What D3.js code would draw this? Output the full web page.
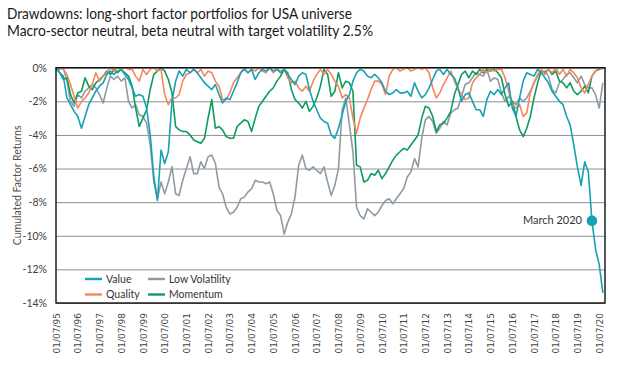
<!DOCTYPE html>
<html>
<head>
<meta charset="utf-8">
<script src="https://cdn.jsdelivr.net/npm/d3@7"></script>
<style>
  html, body { margin: 0; padding: 0; background: #fff; }
  svg { display: block; font-family: Lato, "Open Sans", sans-serif; }
</style>
</head>
<body>
<div id="chart"></div>
<script>
// Drawdowns, in %, sampled every two months from July 1995 to September 2020
const value = [
  0, -0.3, -0.5, -1.8, -2.2, -2.6, -2.9, -3.6, -2.9, -2.2, -1.8, -1.4,
  -1.1, -0.9, -0.4, -0.2, -0.4, -0.2, -0.1, -0.4, -0.7, -1.2, -1.7, -1.6,
  -1.7, -2.4, -4.0, -6.5, -7.9, -4.9, -5.7, -5.0, -2.0, -0.8, -0.2, -0.5,
  -0.1, -0.3, -0.1, -0.3, -0.6, -0.9, -1.1, -1.3, -1.0, -1.6, -2.1, -1.8,
  -1.9, -1.4, -0.9, -0.3, -0.1, -0.3, -0.1, -0.7, -0.3, -0.1, -0.2, 0,
  -0.2, -0.1, -0.3, -0.1, -0.4, -0.7, -1.0, -0.5, -0.3, -0.4, -1.3, -2.0,
  -2.5, -3.0, -3.2, -3.3, -4.0, -4.2, -3.6, -2.8, -2.0, -1.6, -0.8, -0.3,
  -0.1, -0.2, -0.5, -0.6, -0.4, -0.6, -0.9, -1.4, -1.6, -1.5, -1.3, -1.5,
  -1.5, -1.4, -1.7, -0.9, -1.4, -1.8, -1.6, -1.2, -0.7, -0.2, -0.1, -0.4,
  -0.1, -0.4, -0.6, -1.2, -2.0, -1.6, -1.5, -2.0, -2.5, -2.5, -2.9, -1.9,
  -1.4, -1.6, -1.3, -1.6, -1.2, -0.9, -2.4, -2.9, -1.8, -0.8, -0.3, -0.4,
  -0.5, -0.1, -0.3, -0.6, -0.9, -1.4, -1.7, -2.0, -2.2, -2.9, -3.4, -4.6,
  -5.9, -7.0, -5.6, -6.2, -9.1, -10.8, -11.7, -13.4
];
const quality = [
  0, 0, -0.1, -0.4, -1.0, -1.7, -2.4, -2.0, -1.8, -1.5, -1.0, -0.3,
  -0.8, -0.5, -0.3, 0, -0.2, 0, -0.1, 0, -0.1, -0.1, -0.5, -0.8,
  -0.1, -0.4, -0.1, 0, -0.2, -0.1, -1.6, -2.2, -1.8, -1.8, -1.6, -0.8,
  -0.4, -0.3, -0.1, -0.3, -0.1, -0.5, -0.2, -0.3, -0.8, -1.1, -1.9, -1.9,
  -1.5, -0.9, -0.6, -0.3, 0, -0.3, -0.1, -0.2, 0, -0.2, -0.3, 0,
  -0.3, -0.1, -0.2, -0.1, -0.6, -0.9, -0.8, -1.2, -1.4, -1.1, -1.4, -0.8,
  -0.4, -0.1, -0.4, -0.1, -0.4, -0.8, -1.1, -1.8, -1.6, -1.8, -3.0, -3.9,
  -3.0, -2.4, -1.9, -1.3, -0.8, -0.8, -1.0, -1.6, -0.5, -0.1, 0, -0.2,
  -0.1, 0, -0.2, -0.1, 0, -0.1, 0, -0.3, -1.2, -1.8, -1.5, -1.0,
  -0.6, -0.2, -0.8, -1.3, -1.6, -1.9, -1.8, -0.9, -0.6, -0.4, -0.1, -0.3,
  -0.1, -0.2, -0.1, -0.1, -0.6, -1.4, -2.2, -2.4, -2.2, -2.9, -2.7, -1.5,
  -0.9, -0.4, -0.1, -0.4, -0.1, -0.3, 0, -0.4, -0.1, -0.5, -0.1, -0.3,
  -0.6, -1.2, -1.5, -1.0, -0.5, -0.2, 0, -0.1
];
const lowVolatility = [
  0, -0.1, 0, -0.8, -2.0, -2.3, -1.6, -1.8, -1.4, -1.2, -1.0, -1.2,
  -1.6, -2.1, -1.2, -0.5, -0.7, -0.5, -0.8, -0.6, -2.0, -2.4, -2.2, -2.8,
  -2.9, -3.3, -4.6, -6.8, -7.8, -6.8, -7.5, -6.8, -5.9, -7.5, -7.6, -6.7,
  -6.0, -5.3, -6.3, -6.3, -5.6, -6.0, -5.3, -5.2, -5.7, -7.1, -7.5, -8.3,
  -8.7, -8.6, -8.3, -7.8, -7.7, -7.4, -7.2, -6.7, -6.8, -6.8, -6.9, -6.8,
  -7.5, -8.5, -8.8, -9.9, -9.2, -8.7, -7.7, -5.8, -5.2, -6.0, -6.1, -5.9,
  -6.1, -6.3, -5.9, -6.8, -7.6, -7.0, -6.0, -2.5, -1.8, -3.4, -5.0, -8.3,
  -8.8, -9.0, -8.4, -8.6, -8.8, -8.6, -8.2, -7.9, -7.8, -8.1, -7.8, -7.5,
  -7.2, -6.5, -6.2, -5.4, -5.9, -4.2, -3.1, -2.9, -3.2, -3.9, -3.6, -3.2,
  -3.4, -2.7, -2.5, -2.4, -1.7, -1.0, -0.9, -0.6, -0.3, -0.4, -0.5, -0.1,
  -0.8, -0.6, -0.7, -1.5, -2.0, -1.7, -2.0, -2.2, -1.8, -2.0, -1.8, -1.4,
  -0.9, -0.5, -0.2, -0.2, -0.5, -1.3, -1.5, -0.9, -0.7, -0.4, -0.3, -0.6,
  -0.9, -0.5, -1.0, -1.2, -1.2, -1.6, -2.4, -0.9
];
const momentum = [
  0, -0.3, -0.7, -0.6, -1.6, -2.1, -1.5, -1.4, -0.6, -1.1, -1.3, -0.9,
  -0.7, -0.5, -0.2, -0.4, -0.1, -0.3, -0.1, -0.3, -0.5, -1.1, -2.4, -3.5,
  -3.0, -2.5, -1.3, -0.4, -0.2, 0, -0.2, -0.7, -1.5, -3.5, -3.7, -3.8,
  -3.8, -4.0, -4.3, -4.4, -4.5, -4.2, -3.0, -1.9, -3.6, -3.5, -3.7, -4.1,
  -4.2, -4.2, -3.5, -3.3, -3.1, -3.2, -3.8, -3.0, -2.3, -2.0, -1.7, -1.4,
  -1.2, -0.8, -0.5, -0.1, -0.3, -1.3, -1.9, -2.1, -2.4, -2.0, -2.6, -2.3,
  -1.8, -1.1, -0.1, -0.4, -1.7, -1.4, -0.3, -1.2, -0.8, -0.9, -1.4, -5.8,
  -5.9, -6.8, -6.7, -6.3, -6.4, -6.1, -6.6, -6.3, -5.9, -5.5, -5.2, -5.0,
  -4.8, -4.9, -4.6, -4.3, -4.0, -3.0, -2.3, -2.4, -2.9, -3.8, -3.4, -3.3,
  -3.0, -2.6, -1.6, -1.0, -0.4, -0.2, -0.6, -0.2, -0.4, -0.1, -0.3, -0.1,
  -0.2, -0.1, -0.3, -0.6, -1.6, -2.3, -2.0, -2.9, -3.7, -4.1, -3.6, -2.9,
  -1.8, -0.9, -0.2, -0.3, -0.1, -0.4, -0.2, -0.8, -0.9, -1.2, -0.9, -1.4,
  -1.6, -1.4, -1.1, -1.5, -0.5, -0.2, -0.1, 0
];

const dates = d3.timeMonth.range(new Date(1995, 6, 1), new Date(2020, 9, 1), 2);
const seriesNames = ['Value', 'Quality', 'Low Volatility', 'Momentum'];
const seriesColors = ['#16a1b5', '#f4865f', '#8d9ba6', '#0c9c5b'];
const yTicks = [0, -2, -4, -6, -8, -10, -12, -14];
const xTickYears = d3.range(1995, 2021);
const titleLines = [
  'Drawdowns: long-short factor portfolios for USA universe',
  'Macro-sector neutral, beta neutral with target volatility 2.5%'
];
const annotationDate = new Date(2020, 2, 1);
const annotationLabel = 'March 2020';

const width = 619, height = 372;
const marginLeft = 56, marginRight = 14, marginTop = 67.7, marginBottom = 69;

const allSeries = [value, quality, lowVolatility, momentum].map((vals, i) => ({
  name: seriesNames[i],
  color: seriesColors[i],
  points: vals.map((v, j) => ({ date: dates[j], v }))
}));

const x = d3.scaleTime()
  .domain([new Date(1995, 6, 1), new Date(2020, 9, 7)])
  .range([marginLeft, width - marginRight]);
const y = d3.scaleLinear()
  .domain([-14, 0])
  .range([height - marginBottom, marginTop]);

const svg = d3.select('#chart').append('svg')
  .attr('width', width)
  .attr('height', height)
  .attr('viewBox', [0, 0, width, height]);

// title
svg.append('g')
  .selectAll('text')
  .data(titleLines)
  .join('text')
  .attr('x', 7)
  .attr('y', (d, i) => 18.5 + i * 17.8)
  .attr('font-size', 15)
  .attr('fill', '#1a1a1a')
  .attr('textLength', (d, i) => i ? 366 : 345)
  .attr('lengthAdjust', 'spacingAndGlyphs')
  .text(d => d);

// y axis + grid
svg.append('g')
  .attr('transform', `translate(${marginLeft},0)`)
  .call(d3.axisLeft(y).tickValues(yTicks).tickFormat(d => d + '%').tickSize(0).tickPadding(9))
  .call(g => g.select('.domain').remove())
  .call(g => g.selectAll('.tick text')
    .attr('font-family', 'Lato, sans-serif')
    .attr('font-size', 10.5)
    .attr('fill', '#404040'))
  .call(g => g.selectAll('.tick line').clone()
    .attr('x2', width - marginLeft - marginRight)
    .attr('stroke', '#8f8f8f')
    .attr('stroke-width', 1));

svg.append('text')
  .attr('transform', `translate(17,${(marginTop + height - marginBottom) / 2}) rotate(-90)`)
  .attr('text-anchor', 'middle')
  .attr('dy', '0.35em')
  .attr('font-size', 10.5)
  .attr('fill', '#505050')
  .text('Cumulated Factor Returns');

// x axis
const fmt = d3.timeFormat('%d/%m/%y');
svg.append('g')
  .attr('transform', `translate(0,${height - marginBottom})`)
  .call(d3.axisBottom(x).tickValues(xTickYears.map(yr => new Date(yr, 6, 1))).tickFormat(fmt).tickSize(0))
  .call(g => g.select('.domain').remove())
  .call(g => g.selectAll('.tick text')
    .attr('transform', 'rotate(-90)')
    .attr('text-anchor', 'end')
    .attr('x', -10)
    .attr('y', 0)
    .attr('dy', '0.35em')
    .attr('font-family', '"DejaVu Sans", sans-serif')
    .attr('font-size', 9)
    .attr('fill', '#444'));

// lines
const line = d3.line()
  .x(d => x(d.date))
  .y(d => y(d.v));

const drawOrder = [2, 3, 1, 0];
svg.append('g')
  .attr('fill', 'none')
  .attr('stroke-width', 1.6)
  .attr('stroke-linejoin', 'round')
  .selectAll('path')
  .data(drawOrder.map(i => allSeries[i]))
  .join('path')
  .attr('stroke', d => d.color)
  .attr('d', d => line(d.points));

// plot frame
svg.append('rect')
  .attr('x', marginLeft)
  .attr('y', marginTop)
  .attr('width', width - marginLeft - marginRight)
  .attr('height', height - marginBottom - marginTop)
  .attr('fill', 'none')
  .attr('stroke', '#111')
  .attr('stroke-width', 1.4);

// March 2020 marker
const marked = allSeries[0].points.find(p => +p.date === +annotationDate);
svg.append('circle')
  .attr('cx', x(marked.date))
  .attr('cy', y(marked.v))
  .attr('r', 5.3)
  .attr('fill', seriesColors[0]);
svg.append('text')
  .attr('x', x(marked.date) - 10)
  .attr('y', y(marked.v))
  .attr('dy', '0.35em')
  .attr('text-anchor', 'end')
  .attr('font-size', 11)
  .attr('fill', '#333')
  .text(annotationLabel);

// legend
const legendOrder = [0, 2, 1, 3];
const legend = svg.append('g')
  .attr('transform', 'translate(85,279)')
  .selectAll('g')
  .data(legendOrder.map(i => allSeries[i]))
  .join('g')
  .attr('transform', (d, i) => `translate(${(i % 2) * 63},${Math.floor(i / 2) * 15.5})`);
legend.append('line')
  .attr('x1', 0).attr('x2', 17)
  .attr('stroke', d => d.color)
  .attr('stroke-width', 2.4);
legend.append('text')
  .attr('x', 21)
  .attr('dy', '0.35em')
  .attr('font-size', 10.5)
  .attr('fill', '#333')
  .text(d => d.name);
</script>
</body>
</html>
